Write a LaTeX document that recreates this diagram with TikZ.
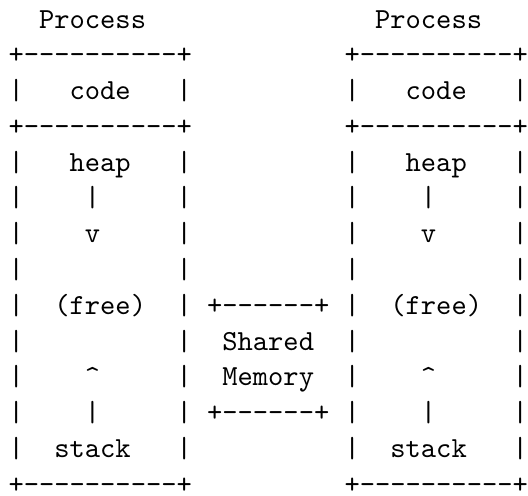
\documentclass[tikz,border=0pt]{standalone}
\usetikzlibrary{positioning}

\newcommand{\dashrun}[1]{\foreach \k in {1,...,#1}{-\kern0pt}}

\begin{document}
\begin{tikzpicture}[x=5.25pt,y=-12.3pt,
    every node/.style={font=\ttfamily,inner sep=0pt,anchor=base west},
    rim/.style={},
    label/.style={}
]
\useasboundingbox (-2.75pt,9.63pt) rectangle (178.75pt,-160.87pt);

% Process boxes
\foreach \p/\c in {a/0,b/22} {
  \node[label] (title-\p) at (\c+2,0) {Process};
  \node[rim] (top-\p) at (\c,1) {+\dashrun{10}+};
  \node[rim] (sep-\p) at (\c,3) {+\dashrun{10}+};
  \node[rim] (bot-\p) at (\c,13) {+\dashrun{10}+};
  \foreach \r in {2,4,5,6,7,8,9,10,11,12} {
    \node[rim] (wl-\p-\r) at (\c,\r) {|};
    \node[rim] (wr-\p-\r) at (\c+11,\r) {|};
  }
  % Segments
  \node[label] (code-\p) at (\c+4,2) {code};
  \node[label] (heap-\p) at (\c+4,4) {heap};
  \node (hbar-\p) at (\c+5,5) {|};
  \node (down-\p) at (\c+5,6) {v};
  \node[label] (free-\p) at (\c+3,8) {(free)};
  \node (up-\p) at (\c+5,10) {\textasciicircum};
  \node (sbar-\p) at (\c+5,11) {|};
  \node[label] (stack-\p) at (\c+3,12) {stack};
}

% Shared Memory
\node[rim] (shtop) at (13,8) {+\dashrun{6}+};
\node[label] (shared) at (14,9) {Shared};
\node[label] (memory) at (14,10) {Memory};
\node[rim] (shbot) at (13,11) {+\dashrun{6}+};

\end{tikzpicture}
\end{document}
